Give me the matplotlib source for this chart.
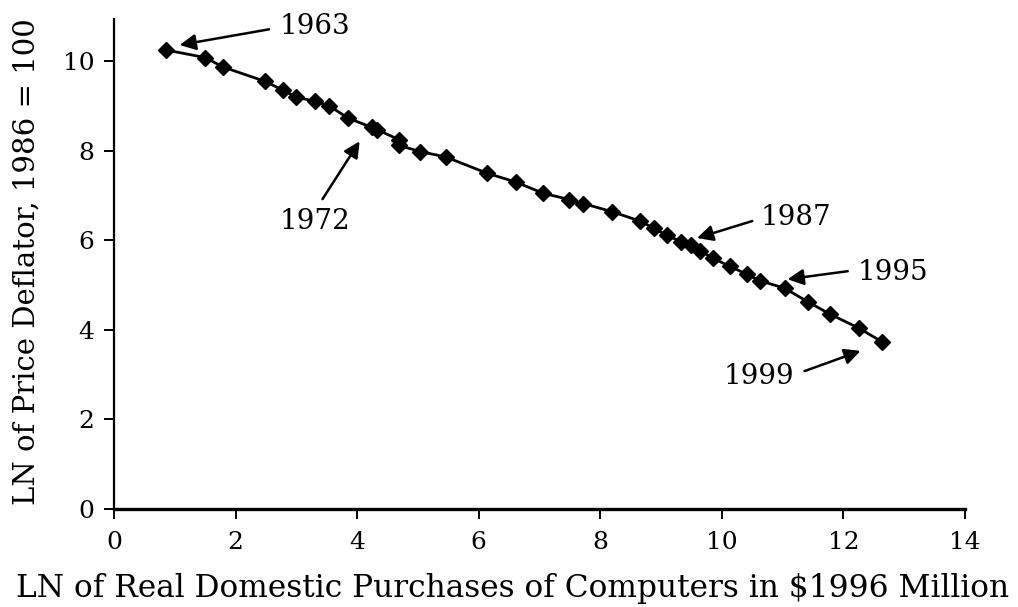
import matplotlib
matplotlib.use("Agg")
import matplotlib.pyplot as plt

# LN of real purchases vs LN of price deflator
ln_purchases = [0.85, 1.50, 1.79, 2.48, 2.78, 2.99, 3.31, 3.54, 3.85, 4.24,
                4.33, 4.68, 4.68, 5.04, 5.46, 6.13, 6.61, 7.06, 7.49, 7.72,
                8.19, 8.65, 8.88, 9.09, 9.33, 9.49, 9.64, 9.85, 10.13, 10.41,
                10.62, 11.03, 11.41, 11.78, 12.25, 12.64]
ln_deflator = [10.25, 10.08, 9.87, 9.55, 9.35, 9.20, 9.10, 9.00, 8.73, 8.52,
               8.47, 8.25, 8.12, 7.98, 7.86, 7.50, 7.30, 7.05, 6.91, 6.82,
               6.64, 6.43, 6.27, 6.11, 5.97, 5.89, 5.77, 5.60, 5.42, 5.24,
               5.10, 4.93, 4.63, 4.35, 4.04, 3.73]

labels = ["1963", "1972", "1987", "1995", "1999"]
label_text_xy = [(3.3, 10.78), (3.31, 6.43), (11.21, 6.50), (12.81, 5.29), (10.61, 2.95)]
label_tail_xy = [(2.55, 10.71), (3.43, 6.92), (10.5, 6.43), (12.07, 5.31), (11.36, 3.08)]
label_head_xy = [(1.08, 10.36), (4.04, 8.21), (9.59, 6.05), (11.08, 5.13), (12.28, 3.53)]

plt.rcParams['font.family'] = ['DejaVu Serif']

fig = plt.figure(figsize=(10.18, 6.07), dpi=100)
ax = fig.add_axes([0.112, 0.1614, 0.836, 0.808])

ax.plot(ln_purchases, ln_deflator, color='black', lw=2.0,
        marker='D', markersize=8.5, markerfacecolor='black', markeredgecolor='black')

for lab, txy, tail, head in zip(labels, label_text_xy, label_tail_xy, label_head_xy):
    ax.text(txy[0], txy[1], lab, fontsize=20, ha='center', va='center')
    ax.annotate('', xy=head, xytext=tail,
                arrowprops=dict(arrowstyle='-|>', color='black', lw=1.8,
                                mutation_scale=24, shrinkA=0, shrinkB=0))

ax.set_xlim(0, 14)
ax.set_ylim(0, 10.95)
ax.set_xticks(range(0, 15, 2))
ax.set_yticks(range(0, 11, 2))
ax.spines['top'].set_visible(False)
ax.spines['right'].set_visible(False)
ax.spines['left'].set_linewidth(1.6)
ax.spines['bottom'].set_linewidth(2.4)
ax.tick_params(direction='out', length=7, width=1.4, labelsize=18)
ax.tick_params(axis='x', pad=9)
ax.tick_params(axis='y', pad=7)

ax.set_xlabel('LN of Real Domestic Purchases of Computers in $1996 Million',
              fontsize=22.5)
ax.xaxis.set_label_coords(0.468, -0.13)
ax.set_ylabel('LN of Price Deflator, 1986 = 100', fontsize=21)
ax.yaxis.set_label_coords(-0.086, 0.505)

fig.savefig('out.png', dpi=100)
